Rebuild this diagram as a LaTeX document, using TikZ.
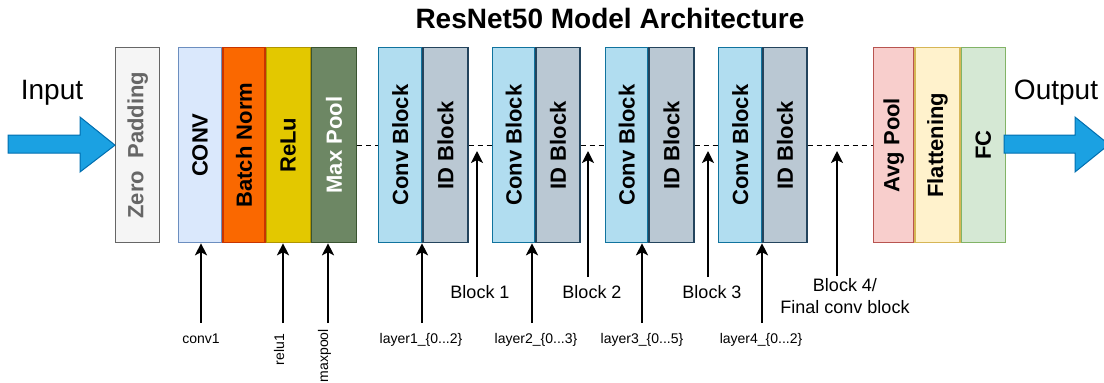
\documentclass[tikz,border=0pt]{standalone}
\usepackage{fontspec}
\setmainfont{Liberation Sans}
\usetikzlibrary{arrows.meta}

\definecolor{padfill}{HTML}{F5F5F5}   \definecolor{padline}{HTML}{666666}
\definecolor{convfill}{HTML}{DAE8FC}  \definecolor{convline}{HTML}{6C8EBF}
\definecolor{bnfill}{HTML}{FA6800}    \definecolor{bnline}{HTML}{C73500}
\definecolor{relufill}{HTML}{E3C800}  \definecolor{reluline}{HTML}{B09500}
\definecolor{poolfill}{HTML}{6D8764}  \definecolor{poolline}{HTML}{3A5431}
\definecolor{cblkfill}{HTML}{B1DDF0}  \definecolor{cblkline}{HTML}{10739E}
\definecolor{idfill}{HTML}{BAC8D3}    \definecolor{idline}{HTML}{23445D}
\definecolor{avgfill}{HTML}{F8CECC}   \definecolor{avgline}{HTML}{B85450}
\definecolor{flatfill}{HTML}{FFF2CC}  \definecolor{flatline}{HTML}{D6B656}
\definecolor{fcfill}{HTML}{D5E8D4}    \definecolor{fcline}{HTML}{82B366}
\definecolor{flowfill}{HTML}{1BA1E2}  \definecolor{flowline}{HTML}{006EAF}

\tikzset{
    stage/.style={draw=#1line, fill=#1fill, line width=1.3pt, minimum height=195pt,
        inner sep=0pt, anchor=north west},
    stagetext/.style={rotate=90, font=\fontsize{22}{26}\selectfont\bfseries, inner sep=0pt},
    link/.style={line width=1.2pt, dash pattern=on 5pt off 4pt},
    flow/.style={draw=flowline, fill=flowfill, line width=1pt},
    tapline/.style={-{Stealth[length=12pt,width=12pt,inset=3pt]}, line width=2pt},
    tap/.style={font=\fontsize{14}{16}\selectfont, inner sep=1pt},
    blocklbl/.style={font=\fontsize{18}{22}\selectfont, align=center, inner sep=1pt},
}

\begin{document}
\begin{tikzpicture}[x=1pt, y=-1pt]
    \clip (0,0) rectangle (1104,383);

    % Title
    \node[font=\fontsize{28}{32}\selectfont\bfseries] (title) at (610,18) {ResNet50 Model Architecture};

    % Draw the stem layers
    \node[stage=pad,  minimum width=44pt] (zp) at (115,47) {};
    \node[stage=conv, minimum width=43pt] (cv) at (178,47) {};
    \node[stage=bn,   minimum width=42pt] (bn) at (cv.north east) {};
    \node[stage=relu, minimum width=44pt] (rl) at (bn.north east) {};
    \node[stage=pool, minimum width=45pt] (mp) at (rl.north east) {};

    \node[stagetext, text=padline] (zpt) at (zp) {Zero\ \ Padding};
    \node[stagetext] (cvt) at (cv) {CONV};
    \node[stagetext] (bnt) at (bn) {Batch Norm};
    \node[stagetext] (rlt) at (rl) {ReLu};
    \node[stagetext, text=white] (mpt) at (mp) {Max Pool};

    % Draw the four residual stages
    \foreach \i/\x/\wc/\wi in {1/378/43/45, 2/492/42/44, 3/605/42/45, 4/718/43/44} {
        \node[stage=cblk, minimum width=\wc pt] (c\i) at (\x,47) {};
        \node[stage=id, minimum width=\wi pt] (i\i) at (c\i.north east) {};
        \node[stagetext] (c\i t) at (c\i) {Conv Block};
        \node[stagetext] (i\i t) at (i\i) {ID Block};
    }

    % Draw the head layers
    \node[stage=avg,  minimum width=40pt] (ap) at (873,47) {};
    \node[stage=flat, minimum width=45pt] (fl) at (ap.north east) {};
    \node[stage=fc,   minimum width=44pt] (fc) at (fl.north east) {};

    \node[stagetext] (apt) at (ap) {Avg Pool};
    \node[stagetext] (flt) at (fl) {Flattening};
    \node[stagetext] (fct) at (fc) {FC};

    % Dashed links between the stages
    \draw[link] (mp) -- (c1);
    \draw[link] (i1) -- (c2);
    \draw[link] (i2) -- (c3);
    \draw[link] (i3) -- (c4);
    \draw[link] (i4) -- (ap);

    % Input and output arrows
    \node[font=\fontsize{28}{32}\selectfont] (input) at (52,93) {Input};
    \node[font=\fontsize{28}{32}\selectfont] (output) at (1056,93) {Output};
    \draw[flow] (8,135) -- (80,135) -- (80,117) -- (zp.west) -- (80,172) -- (80,153) -- (8,153) -- cycle;
    \draw[flow] (1004,135) -- (1075,135) -- (1075,117) -- (1109,144.5) -- (1075,172) -- (1075,153) -- (1004,153) -- cycle;

    % Layer names below the stem
    \node[tap] (conv1) at (201,339) {conv1};
    \node[tap, rotate=90, anchor=east] (relu1) at (279,333) {relu1};
    \node[tap, rotate=90, anchor=east, inner sep=0pt] (maxpool) at (324.5,329) {maxpool};
    \draw[tapline, shorten <=10pt] (conv1) -- (conv1 |- cv.south);
    \draw[tapline, shorten <=10pt] ([xshift=4pt]relu1.east) -- ([xshift=4pt]relu1.east |- rl.south);
    \draw[tapline, shorten <=6pt] ([xshift=3.5pt]maxpool.east) -- ([xshift=3.5pt]maxpool.east |- mp.south);

    % Layer names below the residual stages
    \node[tap] (lay1) at (421,340) {layer1\_\{0...2\}};
    \node[tap] (lay2) at (536,340) {layer2\_\{0...3\}};
    \node[tap] (lay3) at (642,340) {layer3\_\{0...5\}};
    \node[tap] (lay4) at (761,340) {layer4\_\{0...2\}};
    \foreach \i/\x in {1/422, 2/532, 3/642, 4/762} {
        \coordinate (tap\i) at (\x,332);
        \draw[tapline, shorten <=9pt] (tap\i) -- (tap\i |- c\i.south);
    }

    % Block markers on the dashed links
    \node[blocklbl] (blk1) at (480,292) {Block 1};
    \node[blocklbl] (blk2) at (592,292) {Block 2};
    \node[blocklbl] (blk3) at (712,292) {Block 3};
    \node[blocklbl] (blk4) at (845,296) {Block 4/\\Final conv block};
    \coordinate (mark1) at (477,151);
    \coordinate (mark2) at (588,151);
    \coordinate (mark3) at (708,151);
    \coordinate (mark4) at (837,151);
    \foreach \i in {1,2,3} {
        \draw[tapline, shorten <=7pt] (blk\i.north -| mark\i) -- (mark\i);
    }
    \draw[tapline, shorten <=1pt] (blk4.north -| mark4) -- (mark4);
\end{tikzpicture}
\end{document}
